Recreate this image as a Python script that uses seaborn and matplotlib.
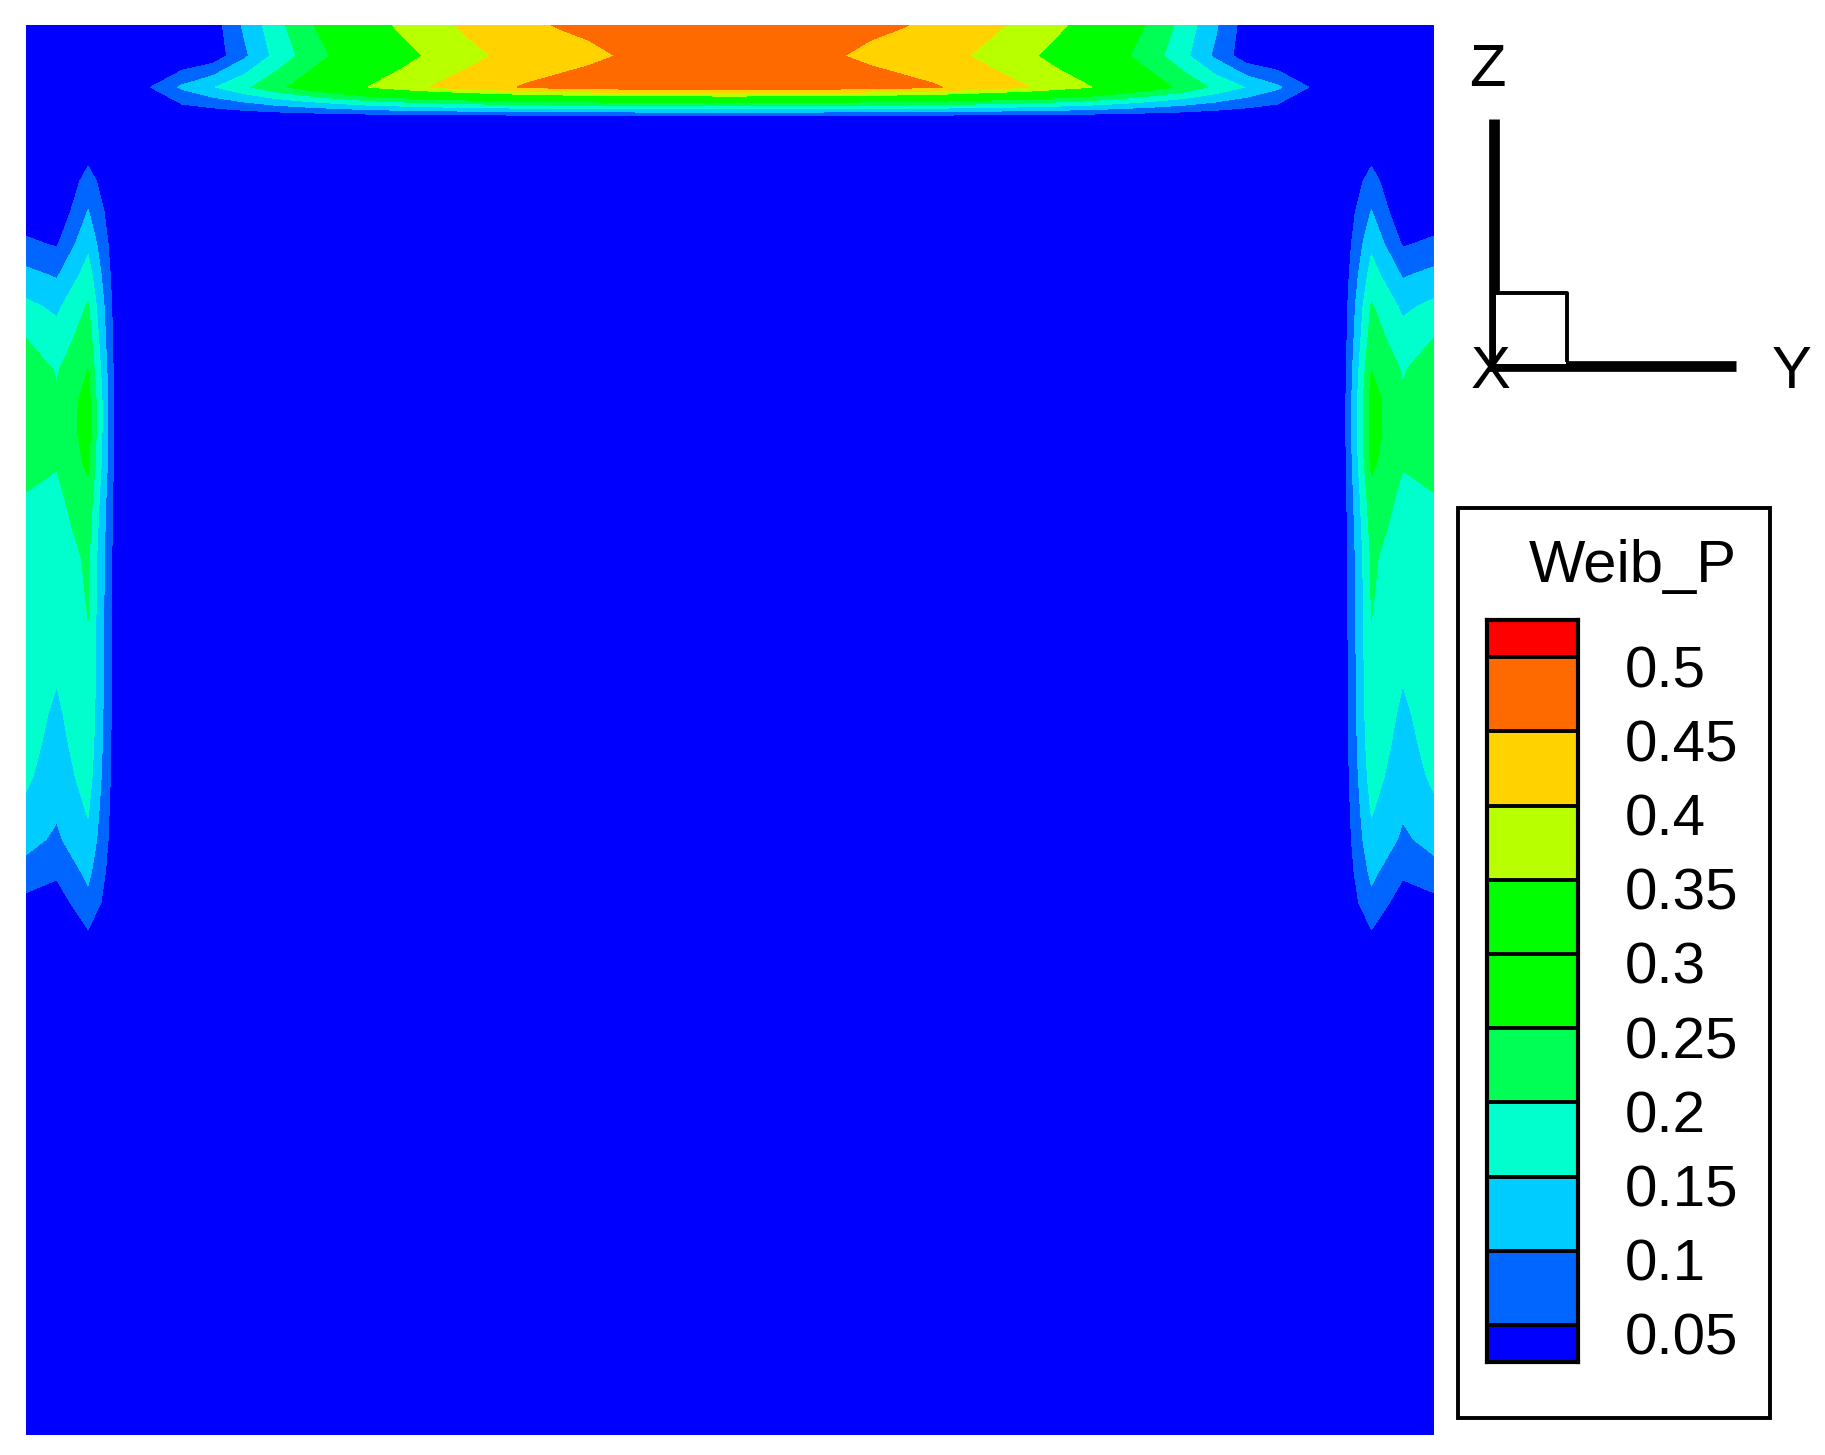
import numpy as np
import pandas as pd
import matplotlib
matplotlib.use("Agg")
import matplotlib.pyplot as plt
from matplotlib.colors import ListedColormap, BoundaryNorm
import seaborn as sns

# Levels and colours of the contour bands
niveis = [0.05, 0.1, 0.15, 0.2, 0.25, 0.3, 0.35, 0.4, 0.45, 0.5]
rotulos = ["0.05", "0.1", "0.15", "0.2", "0.25", "0.3", "0.35", "0.4", "0.45", "0.5"]
cores = ["#0000FF", "#0066FF", "#00CCFF", "#00FFCC", "#00FF55", "#00FF00",
         "#00FF00", "#B8FF00", "#FFD200", "#FF6A00", "#FF0000"]

# Top band, node values from the left wall to the centre (the other half mirrors)
topo_linha0 = [0, 0, 0, 0, 0, 0, .026, .109, .182, .241, .284, .326, .36, .385,
               .407, .424, .44, .453, .46, .465, .47, .472, .474]
topo_linha1 = [0, 0, 0, 0, 0, 0, .02, .091, .164, .22, .262, .297, .33, .36,
               .383, .403, .415, .428, .44, .452, .46, .465, .468]
topo_linha2 = [0, 0, 0, 0, .05, .108, .147, .19, .235, .275, .313, .352, .377, .402,
               .42, .438, .455, .465, .472, .478, .482, .485, .487]

# Side bands, node values from row 4 down to row 31, for the first three columns
lado_coluna0 = [0, 0, .02, .06, .115, .162, .2, .23, .24, .24, .225, .198, .196, .193,
                .19, .186, .183, .18, .175, .17, .16, .14, .115, .085, .035, 0, 0, 0]
lado_coluna1 = [0, 0, .01, .045, .095, .14, .17, .195, .207, .21, .203, .19, .182, .175,
                .168, .163, .155, .151, .14, .13, .118, .107, .092, .06, .025, 0, 0, 0]
lado_coluna2 = [.03, .068, .103, .138, .172, .205, .225, .25, .27, .27, .26, .235, .22, .207,
                .204, .2, .197, .195, .19, .183, .172, .155, .138, .113, .085, .045, .02, 0]

n_nos = 46
W, H = 1825, 1455

# Building the field on the mesh
campo = np.zeros((n_nos, n_nos))
for i, linha in enumerate([topo_linha0, topo_linha1, topo_linha2]):
    campo[i, :23] = linha
for j, coluna in enumerate([lado_coluna0, lado_coluna1, lado_coluna2]):
    campo[4:32, j] = coluna
campo = np.maximum(campo, campo[:, ::-1])

sns.set_style("white")
plt.rcParams["font.family"] = ["Liberation Sans", "DejaVu Sans"]

fig = plt.figure(figsize=(W / 100, H / 100), dpi=100, facecolor="white")

# Main contour plot
ax = fig.add_axes([25.5 / W, 1 - 1435 / H, (1434 - 25.5) / W, (1435 - 24.5) / H])
limites = [-1] + niveis + [1]
ax.contourf(np.arange(n_nos), np.arange(n_nos), campo, levels=limites, colors=cores, antialiased=False)
ax.set_ylim(n_nos - 1, 0)
ax.axis("off")

# Overlay in pixels for the axis triad and the legend box
over = fig.add_axes([0, 0, 1, 1], facecolor="none")
over.set_xlim(0, W)
over.set_ylim(H, 0)
over.axis("off")

over.plot([1494.5, 1494.5], [119, 371], color="black", lw=7.7, solid_capstyle="butt")
over.plot([1489, 1736], [365.5, 365.5], color="black", lw=7.7, solid_capstyle="butt")
# the small box sits on top of the axes and hides part of them
over.add_patch(plt.Rectangle((1496, 294), 70, 69.5, facecolor="white", edgecolor="none", zorder=3))
over.plot([1496, 1567.5, 1567.5], [292.5, 292.5, 362], color="black", lw=2.8, solid_capstyle="butt", zorder=4)
over.text(1487, 71, "Z", fontsize=43, ha="center", va="center", color="black")
over.text(1491, 372, "X", fontsize=43, ha="center", va="center", color="black", zorder=5)
over.text(1792, 372, "Y", fontsize=43, ha="center", va="center", color="black")

over.add_patch(plt.Rectangle((1458.5, 508), 312, 910, fill=False, edgecolor="black", lw=2.8))
over.text(1737, 566, "Weib_P", fontsize=43, ha="right", va="center", color="black")

# Legend bar: the end segments are half the height of the others
ax_barra = fig.add_axes([1487 / W, 1 - 1362 / H, (1578 - 1487) / W, (1362 - 620) / H])
meios = [(a + b) / 2 for a, b in zip(limites[:-1], limites[1:])]
repete = [1, 2, 2, 2, 2, 2, 2, 2, 2, 2, 1]
tabela = pd.DataFrame(np.repeat(meios[::-1], repete))
sns.heatmap(tabela, ax=ax_barra, cmap=ListedColormap(cores), norm=BoundaryNorm(limites, len(cores)),
            cbar=False, xticklabels=False, yticklabels=False)
pos_niveis = np.cumsum(repete)[:-1][::-1]
ax_barra.hlines(pos_niveis, 0, 1, color="black", lw=2.8)
for s in ax_barra.spines.values():
    s.set_visible(True)
    s.set_color("black")
    s.set_linewidth(3)

# Level labels sit a little below each separator
for p, r in zip(pos_niveis, rotulos):
    ax_barra.annotate(r, xy=(1, p), xycoords=("axes fraction", "data"), xytext=(47, -15),
                      textcoords="offset pixels", fontsize=42, ha="left", va="center", color="black")

fig.savefig("out.png", dpi=100)
